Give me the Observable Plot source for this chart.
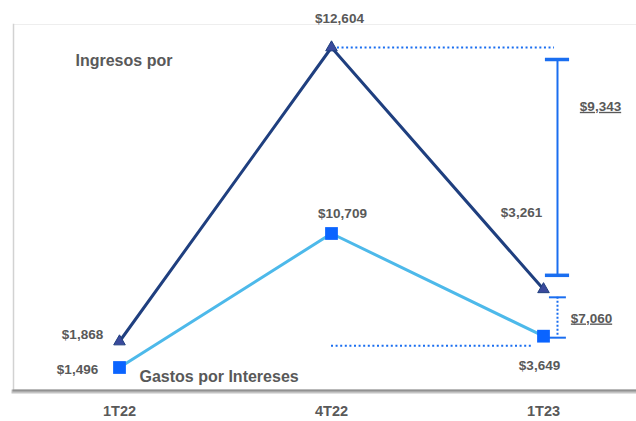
<!DOCTYPE html>
<html><head><meta charset="utf-8">
<script src="https://cdn.jsdelivr.net/npm/d3@7"></script>
<script src="https://cdn.jsdelivr.net/npm/@observablehq/plot@0.6"></script>
<style>
html,body{margin:0;padding:0;background:#fff;}
#wrap{position:relative;width:636px;height:421px;overflow:hidden;}
#wrap svg{position:absolute;left:0;top:0;font-family:"Liberation Sans Narrow","Arial Narrow","Liberation Sans",Arial,sans-serif;font-weight:bold;}
#wrap svg text{fill:#595959;}
g[aria-description="underlined"] text{text-decoration:underline;}
</style></head><body><div id="wrap"></div>
<script>
// ---- data ----
const periods = ["1T22", "4T22", "1T23"];
const ingresos = [1868, 12604, 3261];
const gastos = [1496, 10709, 3649];
const seriesNames = ["Ingresos por", "Gastos por Intereses"];
const deltaIngresos = ingresos[1] - ingresos[2]; // 9,343
const deltaGastos = gastos[1] - gastos[2];       // 7,060

const rows = periods.map((p, i) => ({i, p, ingresos: ingresos[i], gastos: gastos[i]}));
const fmt = v => "$" + d3.format(",")(v);

const W = 636, H = 421;
const xOpt = {type: "linear", domain: [0, 2], range: [119, 543], label: null};
const common = {width: W, height: H, marginLeft: 13, marginTop: 24, marginRight: -3, marginBottom: 31};
const navy = "#1F3F7F", sky = "#4DB9EA", blue = "#0A64FF", ann = "#1A6EF0";
const vs = 13.5; // value label size

// Layer A: Ingresos series
const A = Plot.plot({
  ...common,
  x: xOpt,
  y: {type: "pow", exponent: 0.65, domain: [ingresos[0], ingresos[1]], range: [341, 47], axis: null},
  marks: [
    Plot.frame({stroke: "#eeeeee"}),
    Plot.frame({anchor: "left", stroke: "#d2d2d2", strokeWidth: 1.5}),
    Plot.frame({anchor: "bottom", stroke: "#c4c4c4", strokeWidth: 4, dy: 1}),
    Plot.frame({anchor: "bottom", stroke: "#929292", strokeWidth: 2}),
    Plot.axisX({ticks: [0, 1, 2], tickFormat: i => periods[i], tickSize: 0, tickPadding: 15, fontSize: 14.5, label: null}),
    // dotted reference from the 4T22 peak
    Plot.ruleY([ingresos[1]], {x1: 1.028, x2: 2.052, stroke: ann, strokeWidth: 2, strokeDasharray: "2,2.6"}),
    // bracket for the drop in ingresos
    Plot.ruleX([2.066], {y1: ingresos[1], y2: ingresos[2], insetTop: 12, insetBottom: 14, stroke: ann, strokeWidth: 2}),
    Plot.ruleY([ingresos[1]], {x1: 2.009, x2: 2.123, dy: 12, stroke: ann, strokeWidth: 3.5}),
    Plot.ruleY([ingresos[2]], {x1: 2.009, x2: 2.123, dy: -14, stroke: ann, strokeWidth: 3.5}),
    Plot.ruleY([ingresos[2]], {x1: 2.028, x2: 2.108, dy: 8, stroke: ann, strokeWidth: 2}),
    Plot.text([fmt(deltaIngresos)], {x: 2, y: ingresos[1], dx: 57, dy: 59, fontSize: vs, ariaDescription: "underlined"}),
    // series
    Plot.line(rows, {x: "i", y: "ingresos", stroke: navy, strokeWidth: 3}),
    Plot.dot(rows, {x: "i", y: "ingresos", symbol: "triangle", r: 4.3, fill: "#3A4A9C", stroke: navy, strokeWidth: 1}),
    Plot.text([rows[0]], {x: "i", y: "ingresos", text: d => fmt(d.ingresos), dx: -37, dy: -7, fontSize: vs}),
    Plot.text([rows[1]], {x: "i", y: "ingresos", text: d => fmt(d.ingresos), dx: 8, dy: -29, fontSize: vs}),
    Plot.text([rows[2]], {x: "i", y: "ingresos", text: d => fmt(d.ingresos), dx: -22, dy: -77, fontSize: vs}),
    Plot.text([seriesNames[0]], {frameAnchor: "top-left", textAnchor: "start", lineAnchor: "middle", dx: 62, dy: 36, fontSize: 16})
  ]
});

// Layer B: Gastos series (own value scale)
const B = Plot.plot({
  ...common,
  style: {background: "transparent"},
  x: {...xOpt, axis: null},
  y: {type: "linear", domain: [gastos[0], gastos[1]], range: [367, 233], axis: null},
  marks: [
    Plot.ruleY([gastos[2]], {x1: 1.0, x2: 1.953, dy: 9.5, stroke: ann, strokeWidth: 2, strokeDasharray: "2,2.6"}),
    Plot.ruleX([2.066], {y1: gastos[2], y2: gastos[2], insetTop: -39, insetBottom: -1, stroke: ann, strokeWidth: 2, strokeDasharray: "2,2"}),
    Plot.ruleY([gastos[2]], {x1: 2.028, x2: 2.108, dy: 1.5, stroke: ann, strokeWidth: 2}),
    Plot.text([fmt(deltaGastos)], {x: 2, y: gastos[2], dx: 48, dy: -18, fontSize: vs, ariaDescription: "underlined"}),
    Plot.line(rows, {x: "i", y: "gastos", stroke: sky, strokeWidth: 3}),
    Plot.dot(rows, {x: "i", y: "gastos", symbol: "square", r: 7.2, fill: blue, stroke: "none"}),
    Plot.text([rows[0]], {x: "i", y: "gastos", text: d => fmt(d.gastos), dx: -42, dy: 2, fontSize: vs}),
    Plot.text([rows[1]], {x: "i", y: "gastos", text: d => fmt(d.gastos), dx: 11, dy: -20, fontSize: vs}),
    Plot.text([rows[2]], {x: "i", y: "gastos", text: d => fmt(d.gastos), dx: -4, dy: 29, fontSize: vs}),
    Plot.text([seriesNames[1]], {x: 0, y: gastos[0], textAnchor: "start", dx: 20, dy: 9, fontSize: 16})
  ]
});

const wrap = document.getElementById("wrap");
wrap.appendChild(A);
wrap.appendChild(B);
wrap.querySelectorAll('g[aria-description="underlined"] text').forEach(t => t.setAttribute("text-decoration", "underline"));
</script>
</body></html>
